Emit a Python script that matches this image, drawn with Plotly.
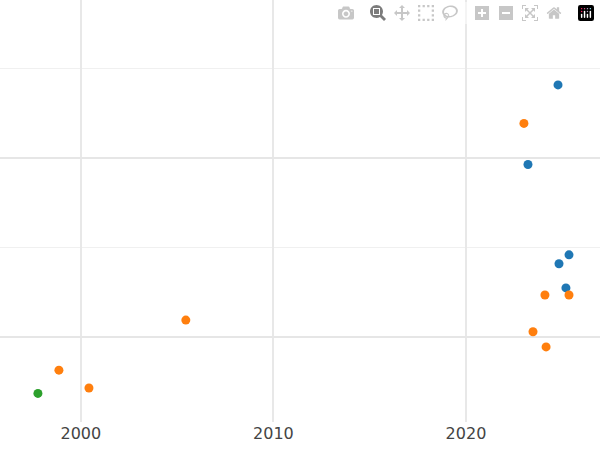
import plotly.graph_objects as go

# x = year (decimal), y = value (axis has no labels)
blue_x = [2024.78, 2023.22, 2025.35, 2024.83, 2025.19]
blue_y = [3.82, 2.93, 1.92, 1.82, 1.55]
orange_x = [2023.01, 2024.10, 2025.35, 2023.48, 2024.16, 2005.45, 1998.86, 2000.42]
orange_y = [3.39, 1.47, 1.47, 1.06, 0.89, 1.19, 0.63, 0.43]
green_x = [1997.77]
green_y = [0.37]

fig = go.Figure()
for xs, ys, color in [
    (blue_x, blue_y, "#1f77b4"),
    (orange_x, orange_y, "#ff7f0e"),
    (green_x, green_y, "#2ca02c"),
]:
    fig.add_trace(go.Scatter(x=xs, y=ys, mode="markers",
                             marker=dict(color=color, size=9)))

fig.update_layout(
    width=600, height=450,
    template="plotly_white",
    showlegend=False,
    margin=dict(l=0, r=0, t=0, b=28),
    font=dict(family="DejaVu Sans", color="#444", size=16),
)
fig.update_xaxes(range=[1995.8, 2026.96], tickvals=[2000, 2010, 2020],
                 showgrid=True, gridcolor="#e8e8e8", gridwidth=2, zeroline=False)
fig.update_yaxes(range=[0.05, 4.77], tick0=1, dtick=2, showticklabels=False,
                 gridcolor="#e6e6e6", gridwidth=2, zeroline=False,
                 minor=dict(tick0=0, dtick=1, showgrid=True, gridcolor="#f0f0f0", gridwidth=1))
fig.write_html("out.html", post_script="document.body.style.margin='0';")
